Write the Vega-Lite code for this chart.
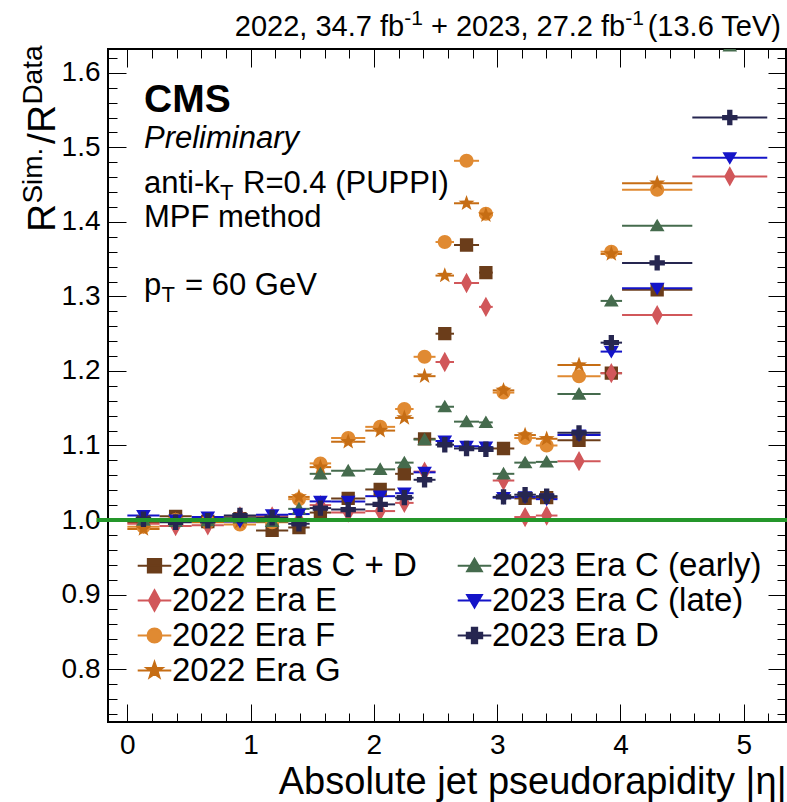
{
  "$schema": "https://vega.github.io/schema/vega-lite/v6.json",
  "width": 678,
  "height": 673,
  "autosize": {"type": "none"},
  "padding": {"left": 108, "top": 49, "right": 1, "bottom": 80},
  "background": "white",
  "config": {
    "view": {"stroke": "black", "strokeWidth": 2},
    "font": "Liberation Sans",
    "axis": {"domain": false, "grid": false, "tickColor": "black", "tickWidth": 1, "labelFont": "Liberation Sans", "titleFont": "Liberation Sans", "labelColor": "black", "titleColor": "black", "titleFontWeight": "normal", "labelFlush": false, "labelOverlap": false},
    "legend": {"title": null, "orient": "none", "legendX": 30, "legendY": 500, "columns": 2, "padding": 0,
      "labelFontSize": 33, "labelFont": "Liberation Sans", "labelColor": "black", "labelLimit": 500,
      "symbolSize": 196, "symbolStrokeWidth": 2, "labelOffset": 1, "columnPadding": 36, "rowPadding": 1}
  },
  "datasets": {
    "ratios": [
      {"series": "2022 Eras C + D", "eta": 0.1305, "lo": 0, "hi": 0.261, "r": 0.997},
      {"series": "2022 Eras C + D", "eta": 0.3915, "lo": 0.261, "hi": 0.522, "r": 1.005},
      {"series": "2022 Eras C + D", "eta": 0.6525, "lo": 0.522, "hi": 0.783, "r": 0.998},
      {"series": "2022 Eras C + D", "eta": 0.9135, "lo": 0.783, "hi": 1.044, "r": 1.002},
      {"series": "2022 Eras C + D", "eta": 1.1745, "lo": 1.044, "hi": 1.305, "r": 0.986},
      {"series": "2022 Eras C + D", "eta": 1.392, "lo": 1.305, "hi": 1.479, "r": 0.990},
      {"series": "2022 Eras C + D", "eta": 1.566, "lo": 1.479, "hi": 1.653, "r": 1.010},
      {"series": "2022 Eras C + D", "eta": 1.7915, "lo": 1.653, "hi": 1.93, "r": 1.029},
      {"series": "2022 Eras C + D", "eta": 2.051, "lo": 1.93, "hi": 2.172, "r": 1.041},
      {"series": "2022 Eras C + D", "eta": 2.247, "lo": 2.172, "hi": 2.322, "r": 1.062},
      {"series": "2022 Eras C + D", "eta": 2.411, "lo": 2.322, "hi": 2.5, "r": 1.109},
      {"series": "2022 Eras C + D", "eta": 2.575, "lo": 2.5, "hi": 2.65, "r": 1.250},
      {"series": "2022 Eras C + D", "eta": 2.7515, "lo": 2.65, "hi": 2.853, "r": 1.369},
      {"series": "2022 Eras C + D", "eta": 2.9085, "lo": 2.853, "hi": 2.964, "r": 1.332},
      {"series": "2022 Eras C + D", "eta": 3.0515, "lo": 2.964, "hi": 3.139, "r": 1.096},
      {"series": "2022 Eras C + D", "eta": 3.2265, "lo": 3.139, "hi": 3.314, "r": 1.029},
      {"series": "2022 Eras C + D", "eta": 3.4015, "lo": 3.314, "hi": 3.489, "r": 1.030},
      {"series": "2022 Eras C + D", "eta": 3.664, "lo": 3.489, "hi": 3.839, "r": 1.107},
      {"series": "2022 Eras C + D", "eta": 3.926, "lo": 3.839, "hi": 4.013, "r": 1.197},
      {"series": "2022 Eras C + D", "eta": 4.298, "lo": 4.013, "hi": 4.583, "r": 1.309},

      {"series": "2022 Era E", "eta": 0.1305, "lo": 0, "hi": 0.261, "r": 0.995},
      {"series": "2022 Era E", "eta": 0.3915, "lo": 0.261, "hi": 0.522, "r": 0.992},
      {"series": "2022 Era E", "eta": 0.6525, "lo": 0.522, "hi": 0.783, "r": 0.993},
      {"series": "2022 Era E", "eta": 0.9135, "lo": 0.783, "hi": 1.044, "r": 1.005},
      {"series": "2022 Era E", "eta": 1.1745, "lo": 1.044, "hi": 1.305, "r": 1.005},
      {"series": "2022 Era E", "eta": 1.392, "lo": 1.305, "hi": 1.479, "r": 1.000},
      {"series": "2022 Era E", "eta": 1.566, "lo": 1.479, "hi": 1.653, "r": 1.020},
      {"series": "2022 Era E", "eta": 1.7915, "lo": 1.653, "hi": 1.93, "r": 1.010},
      {"series": "2022 Era E", "eta": 2.051, "lo": 1.93, "hi": 2.172, "r": 1.012},
      {"series": "2022 Era E", "eta": 2.247, "lo": 2.172, "hi": 2.322, "r": 1.023},
      {"series": "2022 Era E", "eta": 2.411, "lo": 2.322, "hi": 2.5, "r": 1.065},
      {"series": "2022 Era E", "eta": 2.575, "lo": 2.5, "hi": 2.65, "r": 1.212},
      {"series": "2022 Era E", "eta": 2.7515, "lo": 2.65, "hi": 2.853, "r": 1.318},
      {"series": "2022 Era E", "eta": 2.9085, "lo": 2.853, "hi": 2.964, "r": 1.286},
      {"series": "2022 Era E", "eta": 3.0515, "lo": 2.964, "hi": 3.139, "r": 1.053},
      {"series": "2022 Era E", "eta": 3.2265, "lo": 3.139, "hi": 3.314, "r": 1.004},
      {"series": "2022 Era E", "eta": 3.4015, "lo": 3.314, "hi": 3.489, "r": 1.006},
      {"series": "2022 Era E", "eta": 3.664, "lo": 3.489, "hi": 3.839, "r": 1.079},
      {"series": "2022 Era E", "eta": 3.926, "lo": 3.839, "hi": 4.013, "r": 1.197},
      {"series": "2022 Era E", "eta": 4.298, "lo": 4.013, "hi": 4.583, "r": 1.275},
      {"series": "2022 Era E", "eta": 4.887, "lo": 4.583, "hi": 5.191, "r": 1.461},

      {"series": "2022 Era F", "eta": 0.1305, "lo": 0, "hi": 0.261, "r": 0.991},
      {"series": "2022 Era F", "eta": 0.3915, "lo": 0.261, "hi": 0.522, "r": 1.000},
      {"series": "2022 Era F", "eta": 0.6525, "lo": 0.522, "hi": 0.783, "r": 0.998},
      {"series": "2022 Era F", "eta": 0.9135, "lo": 0.783, "hi": 1.044, "r": 0.994},
      {"series": "2022 Era F", "eta": 1.1745, "lo": 1.044, "hi": 1.305, "r": 0.997},
      {"series": "2022 Era F", "eta": 1.392, "lo": 1.305, "hi": 1.479, "r": 1.028},
      {"series": "2022 Era F", "eta": 1.566, "lo": 1.479, "hi": 1.653, "r": 1.076},
      {"series": "2022 Era F", "eta": 1.7915, "lo": 1.653, "hi": 1.93, "r": 1.110},
      {"series": "2022 Era F", "eta": 2.051, "lo": 1.93, "hi": 2.172, "r": 1.125},
      {"series": "2022 Era F", "eta": 2.247, "lo": 2.172, "hi": 2.322, "r": 1.149},
      {"series": "2022 Era F", "eta": 2.411, "lo": 2.322, "hi": 2.5, "r": 1.219},
      {"series": "2022 Era F", "eta": 2.575, "lo": 2.5, "hi": 2.65, "r": 1.373},
      {"series": "2022 Era F", "eta": 2.7515, "lo": 2.65, "hi": 2.853, "r": 1.482},
      {"series": "2022 Era F", "eta": 2.9085, "lo": 2.853, "hi": 2.964, "r": 1.411},
      {"series": "2022 Era F", "eta": 3.0515, "lo": 2.964, "hi": 3.139, "r": 1.171},
      {"series": "2022 Era F", "eta": 3.2265, "lo": 3.139, "hi": 3.314, "r": 1.110},
      {"series": "2022 Era F", "eta": 3.4015, "lo": 3.314, "hi": 3.489, "r": 1.100},
      {"series": "2022 Era F", "eta": 3.664, "lo": 3.489, "hi": 3.839, "r": 1.193},
      {"series": "2022 Era F", "eta": 3.926, "lo": 3.839, "hi": 4.013, "r": 1.360},
      {"series": "2022 Era F", "eta": 4.298, "lo": 4.013, "hi": 4.583, "r": 1.443},

      {"series": "2022 Era G", "eta": 0.1305, "lo": 0, "hi": 0.261, "r": 0.988},
      {"series": "2022 Era G", "eta": 0.3915, "lo": 0.261, "hi": 0.522, "r": 1.000},
      {"series": "2022 Era G", "eta": 0.6525, "lo": 0.522, "hi": 0.783, "r": 0.997},
      {"series": "2022 Era G", "eta": 0.9135, "lo": 0.783, "hi": 1.044, "r": 0.998},
      {"series": "2022 Era G", "eta": 1.1745, "lo": 1.044, "hi": 1.305, "r": 0.998},
      {"series": "2022 Era G", "eta": 1.392, "lo": 1.305, "hi": 1.479, "r": 1.031},
      {"series": "2022 Era G", "eta": 1.566, "lo": 1.479, "hi": 1.653, "r": 1.071},
      {"series": "2022 Era G", "eta": 1.7915, "lo": 1.653, "hi": 1.93, "r": 1.105},
      {"series": "2022 Era G", "eta": 2.051, "lo": 1.93, "hi": 2.172, "r": 1.120},
      {"series": "2022 Era G", "eta": 2.247, "lo": 2.172, "hi": 2.322, "r": 1.137},
      {"series": "2022 Era G", "eta": 2.411, "lo": 2.322, "hi": 2.5, "r": 1.193},
      {"series": "2022 Era G", "eta": 2.575, "lo": 2.5, "hi": 2.65, "r": 1.328},
      {"series": "2022 Era G", "eta": 2.7515, "lo": 2.65, "hi": 2.853, "r": 1.425},
      {"series": "2022 Era G", "eta": 2.9085, "lo": 2.853, "hi": 2.964, "r": 1.409},
      {"series": "2022 Era G", "eta": 3.0515, "lo": 2.964, "hi": 3.139, "r": 1.174},
      {"series": "2022 Era G", "eta": 3.2265, "lo": 3.139, "hi": 3.314, "r": 1.114},
      {"series": "2022 Era G", "eta": 3.4015, "lo": 3.314, "hi": 3.489, "r": 1.109},
      {"series": "2022 Era G", "eta": 3.664, "lo": 3.489, "hi": 3.839, "r": 1.208},
      {"series": "2022 Era G", "eta": 3.926, "lo": 3.839, "hi": 4.013, "r": 1.357},
      {"series": "2022 Era G", "eta": 4.298, "lo": 4.013, "hi": 4.583, "r": 1.452},

      {"series": "2023 Era C (early)", "eta": 0.1305, "lo": 0, "hi": 0.261, "r": 1.000},
      {"series": "2023 Era C (early)", "eta": 0.3915, "lo": 0.261, "hi": 0.522, "r": 0.998},
      {"series": "2023 Era C (early)", "eta": 0.6525, "lo": 0.522, "hi": 0.783, "r": 0.999},
      {"series": "2023 Era C (early)", "eta": 0.9135, "lo": 0.783, "hi": 1.044, "r": 1.003},
      {"series": "2023 Era C (early)", "eta": 1.1745, "lo": 1.044, "hi": 1.305, "r": 0.998},
      {"series": "2023 Era C (early)", "eta": 1.392, "lo": 1.305, "hi": 1.479, "r": 1.015},
      {"series": "2023 Era C (early)", "eta": 1.566, "lo": 1.479, "hi": 1.653, "r": 1.062},
      {"series": "2023 Era C (early)", "eta": 1.7915, "lo": 1.653, "hi": 1.93, "r": 1.066},
      {"series": "2023 Era C (early)", "eta": 2.051, "lo": 1.93, "hi": 2.172, "r": 1.068},
      {"series": "2023 Era C (early)", "eta": 2.247, "lo": 2.172, "hi": 2.322, "r": 1.077},
      {"series": "2023 Era C (early)", "eta": 2.411, "lo": 2.322, "hi": 2.5, "r": 1.108},
      {"series": "2023 Era C (early)", "eta": 2.575, "lo": 2.5, "hi": 2.65, "r": 1.152},
      {"series": "2023 Era C (early)", "eta": 2.7515, "lo": 2.65, "hi": 2.853, "r": 1.132},
      {"series": "2023 Era C (early)", "eta": 2.9085, "lo": 2.853, "hi": 2.964, "r": 1.131},
      {"series": "2023 Era C (early)", "eta": 3.0515, "lo": 2.964, "hi": 3.139, "r": 1.062},
      {"series": "2023 Era C (early)", "eta": 3.2265, "lo": 3.139, "hi": 3.314, "r": 1.077},
      {"series": "2023 Era C (early)", "eta": 3.4015, "lo": 3.314, "hi": 3.489, "r": 1.078},
      {"series": "2023 Era C (early)", "eta": 3.664, "lo": 3.489, "hi": 3.839, "r": 1.169},
      {"series": "2023 Era C (early)", "eta": 3.926, "lo": 3.839, "hi": 4.013, "r": 1.294},
      {"series": "2023 Era C (early)", "eta": 4.298, "lo": 4.013, "hi": 4.583, "r": 1.395},
      {"series": "2023 Era C (early)", "eta": 4.887, "lo": 4.583, "hi": 5.191, "r": 1.636},

      {"series": "2023 Era C (late)", "eta": 0.1305, "lo": 0, "hi": 0.261, "r": 1.006},
      {"series": "2023 Era C (late)", "eta": 0.3915, "lo": 0.261, "hi": 0.522, "r": 1.000},
      {"series": "2023 Era C (late)", "eta": 0.6525, "lo": 0.522, "hi": 0.783, "r": 1.004},
      {"series": "2023 Era C (late)", "eta": 0.9135, "lo": 0.783, "hi": 1.044, "r": 0.998},
      {"series": "2023 Era C (late)", "eta": 1.1745, "lo": 1.044, "hi": 1.305, "r": 1.007},
      {"series": "2023 Era C (late)", "eta": 1.392, "lo": 1.305, "hi": 1.479, "r": 1.008},
      {"series": "2023 Era C (late)", "eta": 1.566, "lo": 1.479, "hi": 1.653, "r": 1.025},
      {"series": "2023 Era C (late)", "eta": 1.7915, "lo": 1.653, "hi": 1.93, "r": 1.025},
      {"series": "2023 Era C (late)", "eta": 2.051, "lo": 1.93, "hi": 2.172, "r": 1.032},
      {"series": "2023 Era C (late)", "eta": 2.247, "lo": 2.172, "hi": 2.322, "r": 1.036},
      {"series": "2023 Era C (late)", "eta": 2.411, "lo": 2.322, "hi": 2.5, "r": 1.064},
      {"series": "2023 Era C (late)", "eta": 2.575, "lo": 2.5, "hi": 2.65, "r": 1.106},
      {"series": "2023 Era C (late)", "eta": 2.7515, "lo": 2.65, "hi": 2.853, "r": 1.099},
      {"series": "2023 Era C (late)", "eta": 2.9085, "lo": 2.853, "hi": 2.964, "r": 1.098},
      {"series": "2023 Era C (late)", "eta": 3.0515, "lo": 2.964, "hi": 3.139, "r": 1.030},
      {"series": "2023 Era C (late)", "eta": 3.2265, "lo": 3.139, "hi": 3.314, "r": 1.031},
      {"series": "2023 Era C (late)", "eta": 3.4015, "lo": 3.314, "hi": 3.489, "r": 1.028},
      {"series": "2023 Era C (late)", "eta": 3.664, "lo": 3.489, "hi": 3.839, "r": 1.114},
      {"series": "2023 Era C (late)", "eta": 3.926, "lo": 3.839, "hi": 4.013, "r": 1.226},
      {"series": "2023 Era C (late)", "eta": 4.298, "lo": 4.013, "hi": 4.583, "r": 1.311},
      {"series": "2023 Era C (late)", "eta": 4.887, "lo": 4.583, "hi": 5.191, "r": 1.486},

      {"series": "2023 Era D", "eta": 0.1305, "lo": 0, "hi": 0.261, "r": 1.001},
      {"series": "2023 Era D", "eta": 0.3915, "lo": 0.261, "hi": 0.522, "r": 0.997},
      {"series": "2023 Era D", "eta": 0.6525, "lo": 0.522, "hi": 0.783, "r": 0.999},
      {"series": "2023 Era D", "eta": 0.9135, "lo": 0.783, "hi": 1.044, "r": 1.006},
      {"series": "2023 Era D", "eta": 1.1745, "lo": 1.044, "hi": 1.305, "r": 1.003},
      {"series": "2023 Era D", "eta": 1.392, "lo": 1.305, "hi": 1.479, "r": 0.995},
      {"series": "2023 Era D", "eta": 1.566, "lo": 1.479, "hi": 1.653, "r": 1.016},
      {"series": "2023 Era D", "eta": 1.7915, "lo": 1.653, "hi": 1.93, "r": 1.014},
      {"series": "2023 Era D", "eta": 2.051, "lo": 1.93, "hi": 2.172, "r": 1.021},
      {"series": "2023 Era D", "eta": 2.247, "lo": 2.172, "hi": 2.322, "r": 1.030},
      {"series": "2023 Era D", "eta": 2.411, "lo": 2.322, "hi": 2.5, "r": 1.054},
      {"series": "2023 Era D", "eta": 2.575, "lo": 2.5, "hi": 2.65, "r": 1.101},
      {"series": "2023 Era D", "eta": 2.7515, "lo": 2.65, "hi": 2.853, "r": 1.096},
      {"series": "2023 Era D", "eta": 2.9085, "lo": 2.853, "hi": 2.964, "r": 1.095},
      {"series": "2023 Era D", "eta": 3.0515, "lo": 2.964, "hi": 3.139, "r": 1.031},
      {"series": "2023 Era D", "eta": 3.2265, "lo": 3.139, "hi": 3.314, "r": 1.034},
      {"series": "2023 Era D", "eta": 3.4015, "lo": 3.314, "hi": 3.489, "r": 1.032},
      {"series": "2023 Era D", "eta": 3.664, "lo": 3.489, "hi": 3.839, "r": 1.117},
      {"series": "2023 Era D", "eta": 3.926, "lo": 3.839, "hi": 4.013, "r": 1.238},
      {"series": "2023 Era D", "eta": 4.298, "lo": 4.013, "hi": 4.583, "r": 1.345},
      {"series": "2023 Era D", "eta": 4.887, "lo": 4.583, "hi": 5.191, "r": 1.540}
    ]
  },
  "layer": [
    {
      "data": {"name": "ratios"},
      "mark": {"type": "rule", "strokeWidth": 2, "clip": true},
      "encoding": {
        "x": {"field": "lo", "type": "quantitative",
          "scale": {"domain": [-0.157, 5.343], "nice": false, "zero": false},
          "axis": {"orient": "bottom",
            "values": [0,0.2,0.4,0.6,0.8,1,1.2,1.4,1.6,1.8,2,2.2,2.4,2.6,2.8,3,3.2,3.4,3.6,3.8,4,4.2,4.4,4.6,4.8,5,5.2],
            "labelExpr": "datum.value % 1 === 0 ? format(datum.value, 'd') : ''",
            "tickSize": {"condition": {"test": "datum.value % 1 === 0", "value": -18}, "value": -9},
            "labelPadding": 27, "labelFontSize": 28,
            "title": "Absolute jet pseudorapidity |η|", "titleFontSize": 38, "titleAnchor": "end", "titlePadding": -5}},
        "x2": {"field": "hi"},
        "y": {"field": "r", "type": "quantitative",
          "scale": {"domain": [0.729, 1.632], "nice": false, "zero": false},
          "axis": {"orient": "left",
            "values": [0.74,0.76,0.78,0.8,0.82,0.84,0.86,0.88,0.9,0.92,0.94,0.96,0.98,1,1.02,1.04,1.06,1.08,1.1,1.12,1.14,1.16,1.18,1.2,1.22,1.24,1.26,1.28,1.3,1.32,1.34,1.36,1.38,1.4,1.42,1.44,1.46,1.48,1.5,1.52,1.54,1.56,1.58,1.6,1.62],
            "labelExpr": "abs(datum.value*10 - round(datum.value*10)) < 0.001 ? format(datum.value, '.1f') : ''",
            "tickSize": {"condition": {"test": "abs(datum.value*10 - round(datum.value*10)) < 0.001", "value": -18}, "value": -9},
            "labelPadding": 26, "labelFontSize": 28, "title": null}},
        "color": {"field": "series", "type": "nominal",
          "scale": {"domain": ["2022 Eras C + D", "2022 Era E", "2022 Era F", "2022 Era G", "2023 Era C (early)", "2023 Era C (late)", "2023 Era D"],
                    "range": ["#6b3d1a", "#d1575a", "#e08a32", "#c66d14", "#456b4d", "#1414c8", "#262650"]},
          "legend": {"encode": {"symbols": {"update": {"stroke": {"signal": "scale('color', datum.value)"}, "strokeWidth": {"value": 2}, "opacity": {"value": 1}}}}}}
      }
    },
    {
      "data": {"name": "ratios"},
      "mark": {"type": "point", "filled": true, "opacity": 1, "size": 196, "clip": true, "strokeWidth": 0},
      "encoding": {
        "x": {"field": "eta", "type": "quantitative",
          "axis": {"orient": "top", "labels": false, "title": null,
            "values": [0,0.2,0.4,0.6,0.8,1,1.2,1.4,1.6,1.8,2,2.2,2.4,2.6,2.8,3,3.2,3.4,3.6,3.8,4,4.2,4.4,4.6,4.8,5,5.2],
            "tickSize": {"condition": {"test": "datum.value % 1 === 0", "value": -18}, "value": -9}}},
        "y": {"field": "r", "type": "quantitative",
          "axis": {"orient": "right", "labels": false, "title": null,
            "values": [0.74,0.76,0.78,0.8,0.82,0.84,0.86,0.88,0.9,0.92,0.94,0.96,0.98,1,1.02,1.04,1.06,1.08,1.1,1.12,1.14,1.16,1.18,1.2,1.22,1.24,1.26,1.28,1.3,1.32,1.34,1.36,1.38,1.4,1.42,1.44,1.46,1.48,1.5,1.52,1.54,1.56,1.58,1.6,1.62],
            "tickSize": {"condition": {"test": "abs(datum.value*10 - round(datum.value*10)) < 0.001", "value": -18}, "value": -9}}},
        "color": {"field": "series", "type": "nominal",
          "legend": {"encode": {"symbols": {"update": {"stroke": {"signal": "scale('color', datum.value)"}, "strokeWidth": {"value": 2}, "opacity": {"value": 1}}}}}},
        "shape": {"field": "series", "type": "nominal",
          "scale": {"domain": ["2022 Eras C + D", "2022 Era E", "2022 Era F", "2022 Era G", "2023 Era C (early)", "2023 Era C (late)", "2023 Era D"],
                    "range": [
                      "M-2.4,0L2.4,0M-0.95,-0.95H0.95V0.95H-0.95Z",
                      "M-2.4,0L2.4,0M0,-1.45L0.8,0L0,1.45L-0.8,0Z",
                      "M-2.4,0L2.4,0M1,0A1,1,0,1,1,-1,0A1,1,0,1,1,1,0Z",
                      "M-2.4,0L2.4,0M0,-1.2L0.282,-0.389L1.141,-0.371L0.456,0.149L0.706,0.971L0,0.48L-0.706,0.971L-0.456,0.149L-1.141,-0.371L-0.282,-0.389Z",
                      "M-2.4,0L2.4,0M0,-1L1.05,0.8L-1.05,0.8Z",
                      "M-2.4,0L2.4,0M0,1L-1.05,-0.8L1.05,-0.8Z",
                      "M-2.4,0L2.4,0M-0.38,-1.1H0.38V-0.38H1.1V0.38H0.38V1.1H-0.38V0.38H-1.1V-0.38H-0.38Z"
                    ]},
          "legend": {"encode": {"symbols": {"update": {"stroke": {"signal": "scale('color', datum.value)"}, "strokeWidth": {"value": 2}, "opacity": {"value": 1}}}}}}
      }
    },
    {
      "data": {"values": [{}]},
      "mark": {"type": "rule", "color": "#24962a", "strokeWidth": 4, "clip": false},
      "encoding": {"x": {"datum": -0.25, "type": "quantitative", "axis": null}, "x2": {"datum": 5.36}, "y": {"datum": 1, "type": "quantitative", "axis": null}}
    },
    {
      "data": {"values": [{}]},
      "mark": {"type": "text", "text": "(13.6 TeV)", "font": "Liberation Sans", "fontSize": 29, "align": "right", "baseline": "alphabetic", "color": "black"},
      "encoding": {"x": {"datum": 5.302, "type": "quantitative", "axis": null}, "y": {"datum": 1.6492, "type": "quantitative", "axis": null}}
    },
    {
      "data": {"values": [{}]},
      "mark": {"type": "text", "text": "-1", "font": "Liberation Sans", "fontSize": 21, "align": "right", "baseline": "alphabetic", "color": "black", "dx": -137, "dy": -11},
      "encoding": {"x": {"datum": 5.302, "type": "quantitative", "axis": null}, "y": {"datum": 1.6492, "type": "quantitative", "axis": null}}
    },
    {
      "data": {"values": [{}]},
      "mark": {"type": "text", "text": "+ 2023, 27.2 fb", "font": "Liberation Sans", "fontSize": 29, "align": "right", "baseline": "alphabetic", "color": "black", "dx": -155.7},
      "encoding": {"x": {"datum": 5.302, "type": "quantitative", "axis": null}, "y": {"datum": 1.6492, "type": "quantitative", "axis": null}}
    },
    {
      "data": {"values": [{}]},
      "mark": {"type": "text", "text": "-1", "font": "Liberation Sans", "fontSize": 21, "align": "right", "baseline": "alphabetic", "color": "black", "dx": -358.1, "dy": -11},
      "encoding": {"x": {"datum": 5.302, "type": "quantitative", "axis": null}, "y": {"datum": 1.6492, "type": "quantitative", "axis": null}}
    },
    {
      "data": {"values": [{}]},
      "mark": {"type": "text", "text": "2022, 34.7 fb", "font": "Liberation Sans", "fontSize": 29, "align": "right", "baseline": "alphabetic", "color": "black", "dx": -376.8},
      "encoding": {"x": {"datum": 5.302, "type": "quantitative", "axis": null}, "y": {"datum": 1.6492, "type": "quantitative", "axis": null}}
    },
    {
      "data": {"values": [{}]},
      "mark": {"type": "text", "text": "CMS", "font": "Liberation Sans", "fontSize": 39, "fontWeight": "bold", "align": "left", "baseline": "alphabetic", "color": "black"},
      "encoding": {"x": {"datum": 0.135, "type": "quantitative", "axis": null}, "y": {"datum": 1.5477, "type": "quantitative", "axis": null}}
    },
    {
      "data": {"values": [{}]},
      "mark": {"type": "text", "text": "Preliminary", "font": "Liberation Sans", "fontSize": 31, "fontStyle": "italic", "align": "left", "baseline": "alphabetic", "color": "black"},
      "encoding": {"x": {"datum": 0.135, "type": "quantitative", "axis": null}, "y": {"datum": 1.4986, "type": "quantitative", "axis": null}}
    },
    {
      "data": {"values": [{}]},
      "mark": {"type": "text", "text": "anti-k", "font": "Liberation Sans", "fontSize": 31, "align": "left", "baseline": "alphabetic", "color": "black"},
      "encoding": {"x": {"datum": 0.135, "type": "quantitative", "axis": null}, "y": {"datum": 1.4382, "type": "quantitative", "axis": null}}
    },
    {
      "data": {"values": [{}]},
      "mark": {"type": "text", "text": "T", "font": "Liberation Sans", "fontSize": 22, "align": "left", "baseline": "alphabetic", "color": "black", "dx": 76, "dy": 7},
      "encoding": {"x": {"datum": 0.135, "type": "quantitative", "axis": null}, "y": {"datum": 1.4382, "type": "quantitative", "axis": null}}
    },
    {
      "data": {"values": [{}]},
      "mark": {"type": "text", "text": "R=0.4 (PUPPI)", "font": "Liberation Sans", "fontSize": 31, "align": "left", "baseline": "alphabetic", "color": "black", "dx": 99},
      "encoding": {"x": {"datum": 0.135, "type": "quantitative", "axis": null}, "y": {"datum": 1.4382, "type": "quantitative", "axis": null}}
    },
    {
      "data": {"values": [{}]},
      "mark": {"type": "text", "text": "MPF method", "font": "Liberation Sans", "fontSize": 31, "align": "left", "baseline": "alphabetic", "color": "black"},
      "encoding": {"x": {"datum": 0.135, "type": "quantitative", "axis": null}, "y": {"datum": 1.3934, "type": "quantitative", "axis": null}}
    },
    {
      "data": {"values": [{}]},
      "mark": {"type": "text", "text": "p", "font": "Liberation Sans", "fontSize": 31, "align": "left", "baseline": "alphabetic", "color": "black"},
      "encoding": {"x": {"datum": 0.135, "type": "quantitative", "axis": null}, "y": {"datum": 1.3018, "type": "quantitative", "axis": null}}
    },
    {
      "data": {"values": [{}]},
      "mark": {"type": "text", "text": "T", "font": "Liberation Sans", "fontSize": 22, "align": "left", "baseline": "alphabetic", "color": "black", "dx": 17.5, "dy": 7},
      "encoding": {"x": {"datum": 0.135, "type": "quantitative", "axis": null}, "y": {"datum": 1.3018, "type": "quantitative", "axis": null}}
    },
    {
      "data": {"values": [{}]},
      "mark": {"type": "text", "text": "= 60 GeV", "font": "Liberation Sans", "fontSize": 31, "align": "left", "baseline": "alphabetic", "color": "black", "dx": 41},
      "encoding": {"x": {"datum": 0.135, "type": "quantitative", "axis": null}, "y": {"datum": 1.3018, "type": "quantitative", "axis": null}}
    },
    {
      "data": {"values": [{}]},
      "mark": {"type": "text", "text": "R", "font": "Liberation Sans", "fontSize": 39, "align": "left", "baseline": "alphabetic", "color": "black", "angle": 270},
      "encoding": {"x": {"datum": -0.587, "type": "quantitative", "axis": null}, "y": {"datum": 1.3863, "type": "quantitative", "axis": null}}
    },
    {
      "data": {"values": [{}]},
      "mark": {"type": "text", "text": "Sim.", "font": "Liberation Sans", "fontSize": 28, "align": "left", "baseline": "alphabetic", "color": "black", "angle": 270, "dx": 28.5, "dy": -13},
      "encoding": {"x": {"datum": -0.587, "type": "quantitative", "axis": null}, "y": {"datum": 1.3863, "type": "quantitative", "axis": null}}
    },
    {
      "data": {"values": [{}]},
      "mark": {"type": "text", "text": "/", "font": "Liberation Sans", "fontSize": 39, "align": "left", "baseline": "alphabetic", "color": "black", "angle": 270, "dx": 88},
      "encoding": {"x": {"datum": -0.587, "type": "quantitative", "axis": null}, "y": {"datum": 1.3863, "type": "quantitative", "axis": null}}
    },
    {
      "data": {"values": [{}]},
      "mark": {"type": "text", "text": "R", "font": "Liberation Sans", "fontSize": 39, "align": "left", "baseline": "alphabetic", "color": "black", "angle": 270, "dx": 99},
      "encoding": {"x": {"datum": -0.587, "type": "quantitative", "axis": null}, "y": {"datum": 1.3863, "type": "quantitative", "axis": null}}
    },
    {
      "data": {"values": [{}]},
      "mark": {"type": "text", "text": "Data", "font": "Liberation Sans", "fontSize": 28, "align": "left", "baseline": "alphabetic", "color": "black", "angle": 270, "dx": 127.5, "dy": -13},
      "encoding": {"x": {"datum": -0.587, "type": "quantitative", "axis": null}, "y": {"datum": 1.3863, "type": "quantitative", "axis": null}}
    }
  ],
  "resolve": {"axis": {"x": "independent", "y": "independent"}}
}
